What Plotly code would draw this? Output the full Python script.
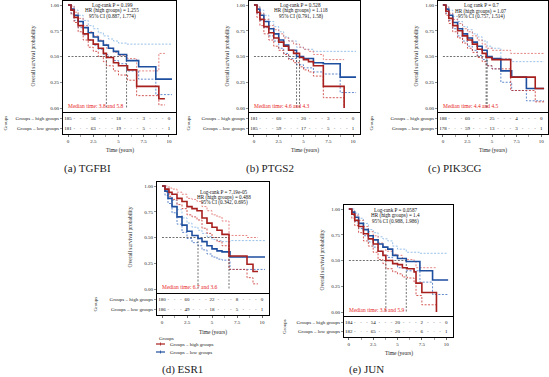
import plotly.graph_objects as go

W, H = 549, 377

# ---------------- data ----------------
GENES = ["TGFBI", "PTGS2", "PIK3CG", "ESR1", "JUN"]
LETTERS = ["(a)", "(b)", "(c)", "(d)", "(e)"]
Y_TICKS = [0, 0.25, 0.5, 0.75, 1.0]
Y_TICK_LABELS = ["0.00", "0.25", "0.50", "0.75", "1.00"]
RISK_TIMES = [0, 2.5, 5, 7.5, 10]
RISK_TIME_LABELS = ["0", "2.5", "5", "7.5", "10"]
GROUP_LABELS = ["Groups – low groups", "Groups – high groups"]

# (a) TGFBI
TGFBI_HIGH_T = [0, 0.3, 0.6, 1.0, 1.5, 2.0, 2.5, 3.0, 3.5, 3.8, 4.5, 5.0, 5.9, 6.8, 9.0, 9.6]
TGFBI_HIGH_S = [1.0, 0.95, 0.88, 0.80, 0.72, 0.66, 0.62, 0.58, 0.53, 0.49, 0.44, 0.41, 0.37, 0.21, 0.09, 0.09]
TGFBI_HIGH_LO = [1.0, 0.91, 0.83, 0.74, 0.66, 0.59, 0.55, 0.50, 0.45, 0.41, 0.36, 0.32, 0.27, 0.12, 0.03, 0.03]
TGFBI_HIGH_HI = [1.0, 0.99, 0.93, 0.87, 0.80, 0.74, 0.70, 0.66, 0.62, 0.58, 0.54, 0.51, 0.48, 0.36, 0.53, 0.53]
TGFBI_LOW_T = [0, 0.3, 0.6, 1.0, 1.5, 2.0, 2.5, 3.0, 3.5, 4.0, 4.5, 5.0, 5.8, 7.0, 8.7, 10.3]
TGFBI_LOW_S = [1.0, 0.96, 0.90, 0.84, 0.78, 0.73, 0.69, 0.65, 0.61, 0.58, 0.55, 0.52, 0.46, 0.40, 0.28, 0.28]
TGFBI_LOW_LO = [1.0, 0.92, 0.85, 0.78, 0.71, 0.66, 0.61, 0.57, 0.52, 0.49, 0.46, 0.43, 0.36, 0.28, 0.13, 0.13]
TGFBI_LOW_HI = [1.0, 0.99, 0.95, 0.90, 0.85, 0.80, 0.77, 0.73, 0.70, 0.67, 0.65, 0.63, 0.62, 0.62, 0.62, 0.62]
TGFBI_RISK_HIGH = [185, 56, 18, 3, 0]
TGFBI_RISK_LOW = [181, 63, 19, 5, 1]
TGFBI_STATS = ["Log-rank P = 0.199", "HR (high groups) = 1.255", "95% CI (0.887, 1.774)"]
TGFBI_MEDIANS = [3.8, 5.8]

# (b) PTGS2
PTGS2_HIGH_T = [0, 0.3, 0.6, 1.0, 1.5, 2.0, 2.5, 3.0, 3.5, 4.0, 4.6, 5.0, 5.5, 6.0, 7.0, 9.1]
PTGS2_HIGH_S = [1.0, 0.93, 0.86, 0.79, 0.73, 0.68, 0.64, 0.60, 0.56, 0.53, 0.49, 0.47, 0.45, 0.41, 0.21, 0.0]
PTGS2_HIGH_LO = [1.0, 0.88, 0.80, 0.72, 0.66, 0.60, 0.56, 0.52, 0.47, 0.44, 0.40, 0.37, 0.35, 0.31, 0.10, 0.0]
PTGS2_HIGH_HI = [1.0, 0.98, 0.92, 0.86, 0.80, 0.76, 0.72, 0.68, 0.65, 0.62, 0.59, 0.57, 0.55, 0.52, 0.47, 0.47]
PTGS2_LOW_T = [0, 0.3, 0.6, 1.0, 1.5, 2.0, 2.5, 3.0, 3.5, 4.3, 5.0, 6.0, 7.0, 8.7, 10.3]
PTGS2_LOW_S = [1.0, 0.96, 0.90, 0.84, 0.77, 0.72, 0.66, 0.61, 0.56, 0.50, 0.48, 0.44, 0.43, 0.30, 0.30]
PTGS2_LOW_LO = [1.0, 0.92, 0.85, 0.78, 0.70, 0.65, 0.58, 0.53, 0.48, 0.42, 0.39, 0.35, 0.33, 0.15, 0.15]
PTGS2_LOW_HI = [1.0, 0.99, 0.95, 0.90, 0.84, 0.79, 0.74, 0.69, 0.65, 0.59, 0.57, 0.55, 0.55, 0.55, 0.55]
PTGS2_RISK_HIGH = [181, 60, 20, 3, 0]
PTGS2_RISK_LOW = [185, 59, 17, 5, 1]
PTGS2_STATS = ["Log-rank P = 0.528", "HR (high groups) = 1.118", "95% CI (0.791, 1.58)"]
PTGS2_MEDIANS = [4.6, 4.3]

# (c) PIK3CG
PIK3CG_HIGH_T = [0, 0.3, 0.6, 1.0, 1.5, 2.0, 2.5, 3.0, 3.5, 4.0, 4.4, 5.0, 6.9, 9.4, 10.3]
PIK3CG_HIGH_S = [1.0, 0.94, 0.87, 0.80, 0.75, 0.70, 0.66, 0.62, 0.57, 0.53, 0.49, 0.47, 0.30, 0.19, 0.19]
PIK3CG_HIGH_LO = [1.0, 0.90, 0.82, 0.74, 0.68, 0.63, 0.58, 0.54, 0.49, 0.45, 0.41, 0.38, 0.17, 0.06, 0.06]
PIK3CG_HIGH_HI = [1.0, 0.98, 0.92, 0.86, 0.82, 0.77, 0.74, 0.70, 0.66, 0.62, 0.58, 0.56, 0.53, 0.53, 0.53]
PIK3CG_LOW_T = [0, 0.3, 0.6, 1.0, 1.5, 2.0, 2.5, 3.0, 3.5, 4.0, 4.5, 5.0, 5.9, 7.0, 8.5, 10.3]
PIK3CG_LOW_S = [1.0, 0.96, 0.90, 0.83, 0.77, 0.72, 0.68, 0.64, 0.60, 0.56, 0.50, 0.48, 0.36, 0.30, 0.19, 0.19]
PIK3CG_LOW_LO = [1.0, 0.92, 0.85, 0.77, 0.70, 0.65, 0.60, 0.56, 0.51, 0.47, 0.41, 0.38, 0.25, 0.17, 0.07, 0.07]
PIK3CG_LOW_HI = [1.0, 0.99, 0.95, 0.89, 0.84, 0.79, 0.76, 0.72, 0.69, 0.65, 0.60, 0.58, 0.48, 0.45, 0.45, 0.45]
PIK3CG_RISK_HIGH = [188, 60, 25, 4, 0]
PIK3CG_RISK_LOW = [178, 59, 13, 3, 1]
PIK3CG_STATS = ["Log rank P = 0.7", "HR (high groups) = 1.07", "95% CI (0.757, 1.514)"]
PIK3CG_MEDIANS = [4.4, 4.5]

# (d) ESR1
ESR1_HIGH_T = [0, 0.3, 0.7, 1.0, 1.5, 2.0, 2.5, 3.0, 3.5, 4.0, 4.5, 5.0, 5.5, 6.0, 6.7, 8.5, 9.1, 9.6]
ESR1_HIGH_S = [1.0, 0.97, 0.94, 0.92, 0.88, 0.85, 0.80, 0.78, 0.76, 0.69, 0.64, 0.60, 0.57, 0.53, 0.32, 0.24, 0.17, 0.17]
ESR1_HIGH_LO = [1.0, 0.94, 0.90, 0.87, 0.82, 0.78, 0.72, 0.70, 0.67, 0.59, 0.54, 0.50, 0.46, 0.42, 0.19, 0.11, 0.05, 0.05]
ESR1_HIGH_HI = [1.0, 1.0, 0.98, 0.97, 0.94, 0.92, 0.88, 0.87, 0.85, 0.80, 0.76, 0.72, 0.70, 0.66, 0.52, 0.50, 0.50, 0.50]
ESR1_LOW_T = [0, 0.3, 0.6, 1.0, 1.5, 2.0, 2.5, 3.0, 3.6, 4.0, 4.5, 5.0, 5.5, 6.0, 6.8, 10.3]
ESR1_LOW_S = [1.0, 0.95, 0.88, 0.80, 0.70, 0.62, 0.56, 0.52, 0.49, 0.46, 0.42, 0.39, 0.37, 0.36, 0.31, 0.31]
ESR1_LOW_LO = [1.0, 0.91, 0.83, 0.74, 0.63, 0.55, 0.49, 0.45, 0.42, 0.38, 0.34, 0.31, 0.29, 0.28, 0.19, 0.19]
ESR1_LOW_HI = [1.0, 0.98, 0.93, 0.86, 0.77, 0.69, 0.64, 0.60, 0.57, 0.54, 0.51, 0.48, 0.47, 0.46, 0.47, 0.47]
ESR1_RISK_HIGH = [180, 60, 22, 8, 0]
ESR1_RISK_LOW = [186, 49, 18, 5, 1]
ESR1_STATS = ["Log-rank P = 7.19e-05", "HR (high groups) = 0.488", "95% CI (0.342, 0.695)"]
ESR1_MEDIANS = [6.7, 3.6]

# (e) JUN
JUN_HIGH_T = [0, 0.3, 0.6, 1.0, 1.5, 2.0, 2.5, 3.0, 3.5, 3.8, 4.5, 5.0, 5.5, 6.0, 6.7, 6.9, 7.5, 9.0]
JUN_HIGH_S = [1.0, 0.95, 0.89, 0.83, 0.76, 0.71, 0.66, 0.59, 0.55, 0.50, 0.47, 0.46, 0.43, 0.42, 0.39, 0.28, 0.19, 0.0]
JUN_HIGH_LO = [1.0, 0.91, 0.84, 0.77, 0.69, 0.64, 0.58, 0.51, 0.47, 0.42, 0.39, 0.37, 0.34, 0.33, 0.29, 0.16, 0.07, 0.0]
JUN_HIGH_HI = [1.0, 0.98, 0.94, 0.89, 0.83, 0.78, 0.74, 0.67, 0.63, 0.59, 0.56, 0.55, 0.52, 0.51, 0.49, 0.43, 0.43, 0.43]
JUN_LOW_T = [0, 0.3, 0.6, 1.0, 1.5, 2.0, 2.5, 3.0, 3.5, 4.0, 4.5, 5.0, 5.9, 7.3, 8.6, 10.2]
JUN_LOW_S = [1.0, 0.97, 0.92, 0.86, 0.80, 0.74, 0.70, 0.66, 0.63, 0.61, 0.55, 0.52, 0.49, 0.40, 0.31, 0.31]
JUN_LOW_LO = [1.0, 0.94, 0.88, 0.81, 0.74, 0.68, 0.63, 0.59, 0.55, 0.53, 0.47, 0.43, 0.40, 0.29, 0.17, 0.17]
JUN_LOW_HI = [1.0, 1.0, 0.96, 0.91, 0.86, 0.80, 0.77, 0.73, 0.71, 0.69, 0.64, 0.61, 0.58, 0.57, 0.57, 0.57]
JUN_RISK_HIGH = [184, 54, 20, 2, 0]
JUN_RISK_LOW = [182, 65, 20, 6, 1]
JUN_STATS = ["Log-rank P = 0.0587", "HR (high groups) = 1.4", "95% CI (0.988, 1.986)"]
JUN_MEDIANS = [3.8, 5.9]

PANELS = [
    (TGFBI_HIGH_T, TGFBI_HIGH_S, TGFBI_HIGH_LO, TGFBI_HIGH_HI, TGFBI_LOW_T, TGFBI_LOW_S, TGFBI_LOW_LO, TGFBI_LOW_HI,
     TGFBI_RISK_HIGH, TGFBI_RISK_LOW, TGFBI_STATS, TGFBI_MEDIANS),
    (PTGS2_HIGH_T, PTGS2_HIGH_S, PTGS2_HIGH_LO, PTGS2_HIGH_HI, PTGS2_LOW_T, PTGS2_LOW_S, PTGS2_LOW_LO, PTGS2_LOW_HI,
     PTGS2_RISK_HIGH, PTGS2_RISK_LOW, PTGS2_STATS, PTGS2_MEDIANS),
    (PIK3CG_HIGH_T, PIK3CG_HIGH_S, PIK3CG_HIGH_LO, PIK3CG_HIGH_HI, PIK3CG_LOW_T, PIK3CG_LOW_S, PIK3CG_LOW_LO, PIK3CG_LOW_HI,
     PIK3CG_RISK_HIGH, PIK3CG_RISK_LOW, PIK3CG_STATS, PIK3CG_MEDIANS),
    (ESR1_HIGH_T, ESR1_HIGH_S, ESR1_HIGH_LO, ESR1_HIGH_HI, ESR1_LOW_T, ESR1_LOW_S, ESR1_LOW_LO, ESR1_LOW_HI,
     ESR1_RISK_HIGH, ESR1_RISK_LOW, ESR1_STATS, ESR1_MEDIANS),
    (JUN_HIGH_T, JUN_HIGH_S, JUN_HIGH_LO, JUN_HIGH_HI, JUN_LOW_T, JUN_LOW_S, JUN_LOW_LO, JUN_LOW_HI,
     JUN_RISK_HIGH, JUN_RISK_LOW, JUN_STATS, JUN_MEDIANS),
]

# ---------------- layout geometry (pixels) ----------------
GEOM = [
    dict(x0=63, x1=176, m0=1, m1=112, t0=113, t1=134, ylab=32, grp=5, time=150, capx=87, capy=168, stx=4.4, sty=[1.0, 0.947, 0.89]),
    dict(x0=249, x1=360, m0=1, m1=112, t0=113, t1=134, ylab=226, grp=188, time=150, capx=270, capy=168, stx=4.7, sty=[1.0, 0.947, 0.89]),
    dict(x0=438, x1=548, m0=1, m1=112, t0=113, t1=134, ylab=415, grp=371, time=150, capx=455, capy=168, stx=3.9, sty=[1.0, 0.94, 0.89]),
    dict(x0=157, x1=269, m0=182, m1=293, t0=294, t1=315, ylab=129, grp=95, time=332, capx=182, capy=369, stx=6.2, sty=[0.94, 0.89, 0.835]),
    dict(x0=344, x1=453, m0=205, m1=316, t0=317, t1=337, ylab=321, grp=284, time=353, capx=366, capy=369, stx=4.8, sty=[0.99, 0.94, 0.88]),
]

FONT = "Liberation Serif, Times New Roman, serif"
RED = "#A8201E"
RED_HI = "#E06A66"
RED_LO = "#C8302C"
BLUE = "#1E4E9E"
BLUE_HI = "#7FB3E3"
BLUE_LO = "#3B6CC0"
MED_RED = "#E8231E"
X_RANGE = [-0.5, 10.7]


def px(x):
    return x / W


def py(y):
    return 1 - y / H


fig = go.Figure()
annotations = []
shapes = []
layout_axes = {}

for i, (g, data) in enumerate(zip(GEOM, PANELS)):
    (ht, hs, hlo, hhi, lt, ls, llo, lhi, rh, rl, stats, meds) = data
    nm, nt = 2 * i + 1, 2 * i + 2
    xm, ym = f"x{nm}", f"y{nm}"
    xt, yt = f"x{nt}", f"y{nt}"
    unit = (g["m1"] - g["m0"] - 8)
    yr = [-4 / unit, 1 + 4 / unit]

    # confidence intervals
    for t, v, col in [(lt, lhi, BLUE_HI), (lt, llo, BLUE_LO), (ht, hhi, RED_HI), (ht, hlo, RED_LO)]:
        fig.add_trace(go.Scatter(x=t, y=v, mode="lines", line=dict(color=col, width=0.8, dash="2px,1.5px", shape="hv"),
                                 xaxis=xm, yaxis=ym, showlegend=False, hoverinfo="skip"))
    # median lines
    mmax = max(meds)
    fig.add_trace(go.Scatter(x=[0, mmax, None, meds[0], meds[0], None, meds[1], meds[1]],
                             y=[0.5, 0.5, None, 0.5, 0, None, 0.5, 0], mode="lines",
                             line=dict(color="#333333", width=0.7, dash="2px,1.5px"),
                             xaxis=xm, yaxis=ym, showlegend=False, hoverinfo="skip"))
    # survival curves
    fig.add_trace(go.Scatter(x=lt, y=ls, mode="lines", line=dict(color=BLUE, width=1.6, shape="hv"),
                             xaxis=xm, yaxis=ym, showlegend=False))
    fig.add_trace(go.Scatter(x=ht, y=hs, mode="lines", line=dict(color=RED, width=1.6, shape="hv"),
                             xaxis=xm, yaxis=ym, showlegend=False))

    # risk table numbers
    fig.add_trace(go.Scatter(x=RISK_TIMES, y=[1] * len(rh), text=[str(v) for v in rh], mode="text",
                             textfont=dict(family=FONT, size=5, color="#111"),
                             xaxis=xt, yaxis=yt, showlegend=False))
    fig.add_trace(go.Scatter(x=RISK_TIMES, y=[0] * len(rl), text=[str(v) for v in rl], mode="text",
                             textfont=dict(family=FONT, size=5, color="#111"),
                             xaxis=xt, yaxis=yt, showlegend=False))
    mx, my, mt = [], [], []
    for a, b in zip(RISK_TIMES[:-1], RISK_TIMES[1:]):
        for k in (1, 2, 3):
            for row in (0, 1):
                mx.append(a + (b - a) * k / 4)
                my.append(row)
                mt.append("-" if (k != 2 or row == 1) else "·")
    fig.add_trace(go.Scatter(x=mx, y=my, text=mt, mode="text",
                             textfont=dict(family=FONT, size=5, color="#555"),
                             xaxis=xt, yaxis=yt, showlegend=False, hoverinfo="skip"))

    dom_x = [px(g["x0"]), px(g["x1"])]
    common = dict(showgrid=False, zeroline=False, showline=True, mirror=True, linecolor="black", linewidth=1)
    layout_axes[f"xaxis{nm}"] = dict(domain=dom_x, range=X_RANGE, anchor=ym, showticklabels=False, ticks="", **common)
    layout_axes[f"yaxis{nm}"] = dict(domain=[py(g["m1"]), py(g["m0"])], range=yr, anchor=xm,
                                     tickvals=Y_TICKS, ticktext=Y_TICK_LABELS, ticks="outside", ticklen=2,
                                     tickwidth=0.6, tickfont=dict(family=FONT, size=5, color="#222"), **common)
    layout_axes[f"xaxis{nt}"] = dict(domain=dom_x, range=X_RANGE, anchor=yt,
                                     tickvals=RISK_TIMES, ticktext=RISK_TIME_LABELS, ticks="outside", ticklen=2,
                                     tickwidth=0.6, tickfont=dict(family=FONT, size=5, color="#222"),
                                     minor=dict(dtick=1.25, tick0=0, ticks="outside", ticklen=1.5, tickwidth=0.5),
                                     **common)
    layout_axes[f"yaxis{nt}"] = dict(domain=[py(g["t1"]), py(g["t0"])], range=[-0.6, 1.6], anchor=xt,
                                     tickvals=[0, 1], ticktext=GROUP_LABELS, ticks="outside", ticklen=2,
                                     tickwidth=0.6, tickfont=dict(family=FONT, size=5, color="#222"), **common)

    # statistics text
    for s, yy in zip(stats, g["sty"]):
        annotations.append(dict(x=g["stx"], y=yy, xref=xm, yref=ym, text=s, showarrow=False,
                                font=dict(family=FONT, size=5.2, color="#111"), xanchor="center", yanchor="middle"))
    annotations.append(dict(x=-0.2, y=0.02, xref=xm, yref=ym,
                            text=f"Median time: {meds[0]} and {meds[1]}", showarrow=False,
                            font=dict(family=FONT, size=5.5, color=MED_RED), xanchor="left", yanchor="middle"))
    # axis titles
    annotations.append(dict(x=px(g["ylab"]), y=py((g["m0"] + g["m1"]) / 2), xref="paper", yref="paper",
                            text="Overall survival probability", textangle=-90, showarrow=False,
                            font=dict(family=FONT, size=5.5, color="#222"), xanchor="center", yanchor="middle"))
    annotations.append(dict(x=px(g["grp"]), y=py((g["t0"] + g["t1"]) / 2), xref="paper", yref="paper",
                            text="Groups", textangle=-90, showarrow=False,
                            font=dict(family=FONT, size=5, color="#222"), xanchor="center", yanchor="middle"))
    annotations.append(dict(x=px((g["x0"] + g["x1"]) / 2), y=py(g["time"]), xref="paper", yref="paper",
                            text="Time (years)", showarrow=False,
                            font=dict(family=FONT, size=5.5, color="#222"), xanchor="center", yanchor="middle"))
    annotations.append(dict(x=px(g["capx"]), y=py(g["capy"]), xref="paper", yref="paper",
                            text=f"{LETTERS[i]} {GENES[i]}", showarrow=False,
                            font=dict(family=FONT, size=11, color="#222"), xanchor="center", yanchor="middle"))

# legend for panel (d)
annotations.append(dict(x=px(157), y=py(338), xref="paper", yref="paper", text="Groups", showarrow=False,
                        font=dict(family=FONT, size=5, color="#222"), xanchor="left", yanchor="middle"))
for yy, col, lab in [(344, RED, GROUP_LABELS[1]), (352, BLUE, GROUP_LABELS[0])]:
    shapes.append(dict(type="line", xref="paper", yref="paper", x0=px(156), x1=px(165), y0=py(yy), y1=py(yy),
                       line=dict(color=col, width=1.2)))
    shapes.append(dict(type="line", xref="paper", yref="paper", x0=px(160.5), x1=px(160.5), y0=py(yy - 1.5),
                       y1=py(yy + 1.5), line=dict(color=col, width=0.8)))
    annotations.append(dict(x=px(168), y=py(yy), xref="paper", yref="paper", text=lab, showarrow=False,
                            font=dict(family=FONT, size=5, color="#222"), xanchor="left", yanchor="middle"))

fig.update_layout(width=W, height=H, margin=dict(l=0, r=0, t=0, b=0), paper_bgcolor="white",
                  plot_bgcolor="white", showlegend=False, annotations=annotations, shapes=shapes,
                  font=dict(family=FONT), **layout_axes)

fig.write_html("out.html", config={"displayModeBar": False, "staticPlot": True},
               post_script="document.body.style.margin='0px';document.body.style.overflow='hidden';")
